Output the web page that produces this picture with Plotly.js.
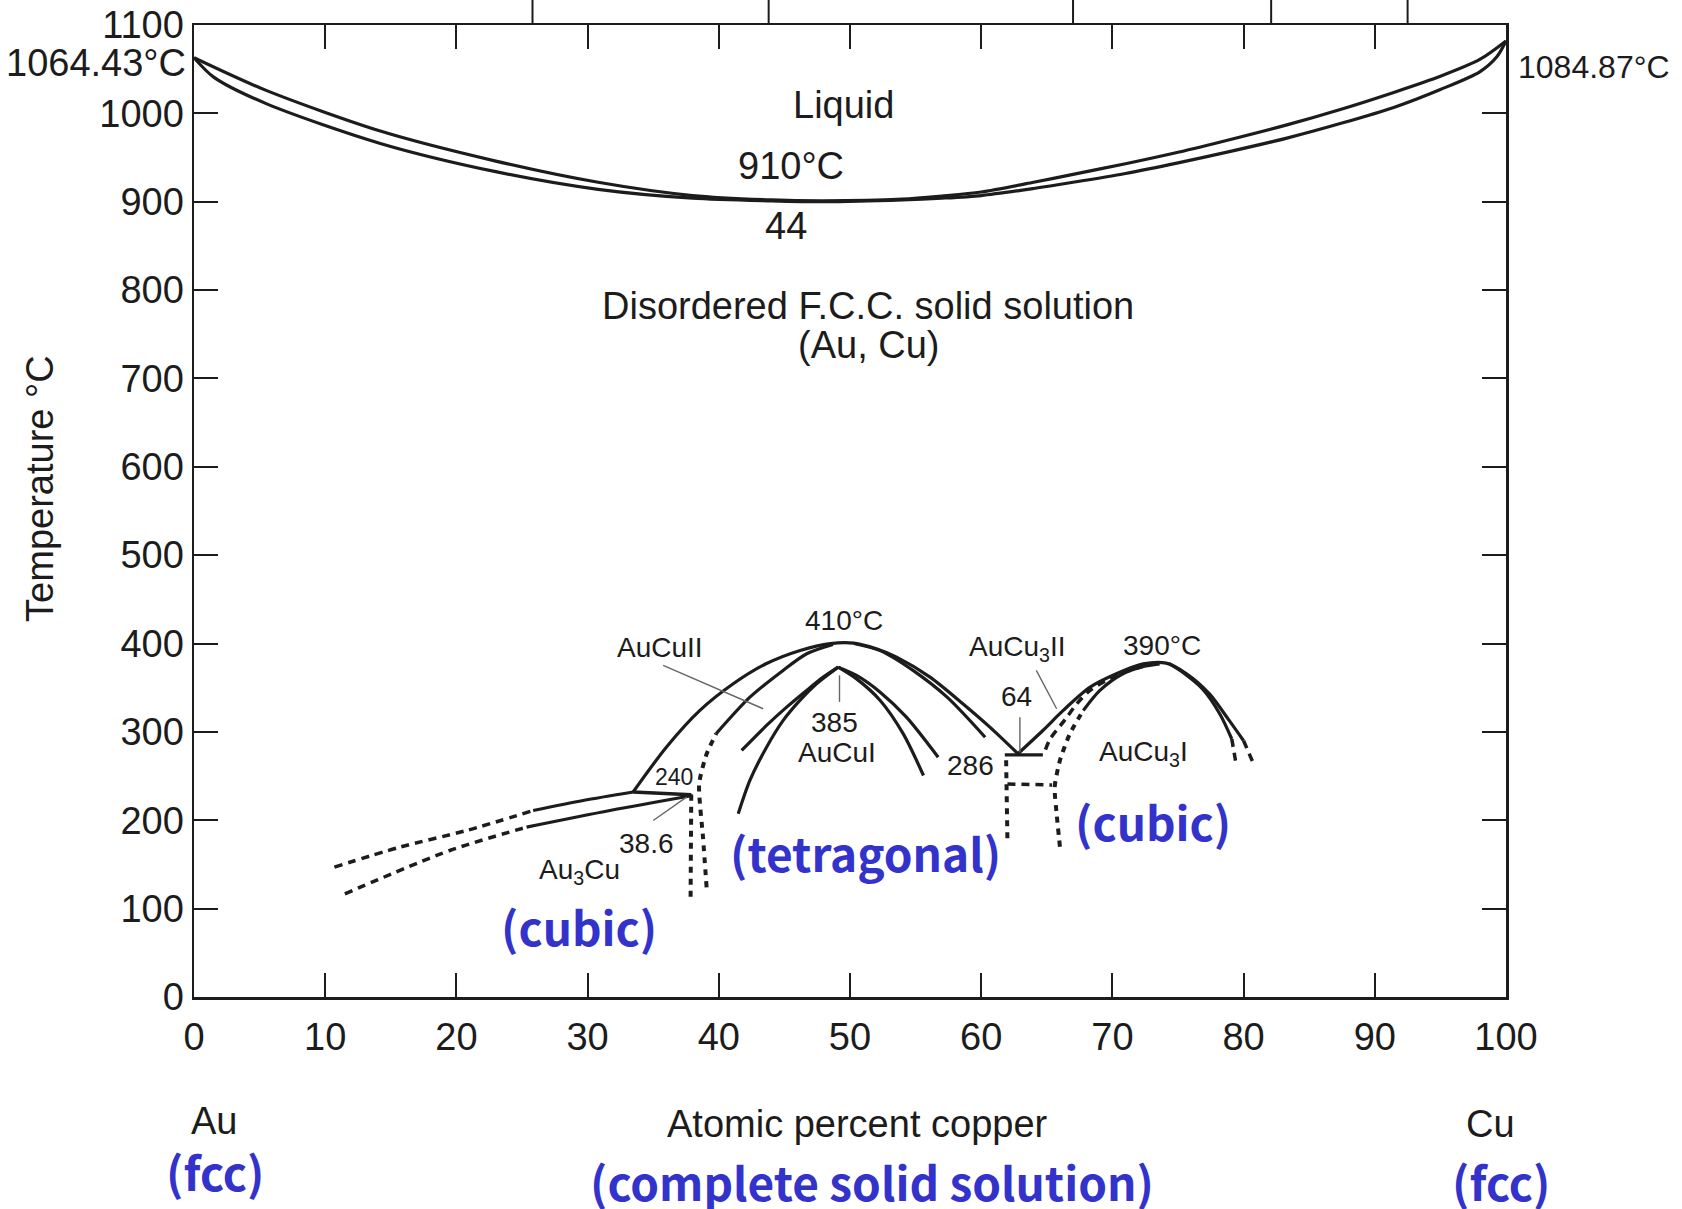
<!DOCTYPE html>
<html>
<head>
<meta charset="utf-8">
<script src="https://cdn.plot.ly/plotly-3.0.1.min.js"></script>
<style>html,body{margin:0;padding:0;background:#fff;}#chart{width:1682px;height:1209px;}</style>
</head>
<body>
<div id="chart"></div>
<script>
// ---------- data (atomic % Cu, temperature °C) ----------
const liquidusX = [0, 5.5, 14.2, 23, 30.8, 38, 44, 48, 54, 57, 60, 64, 67, 71, 75, 79, 83.3, 87.5, 91.5, 95, 98, 100];
const liquidusY = [1063, 1026, 980, 946, 922, 907, 902, 901, 903, 906.5, 911, 922, 931, 943, 956, 970.5, 987, 1005, 1024, 1042, 1061, 1082];
const solidusX = [0, 1.5, 5.5, 14.2, 23, 30.8, 38, 44, 48, 54, 57, 60, 64, 67, 71, 75, 79, 83.3, 87.5, 91.5, 95, 98, 99.3, 100];
const solidusY = [1063, 1041, 1011, 966, 934, 914, 904, 901, 900, 902, 904, 907, 915, 922, 932, 944, 957, 972, 989, 1007, 1027, 1047, 1064, 1082];

const au3cuUpperX = [25.85, 29.66, 33.47];
const au3cuUpperY = [211, 222.4, 232];
const au3cuUpperDashX = [10.7, 15.7, 20.8, 25.85];
const au3cuUpperDashY = [147, 169.6, 188.5, 211];
const au3cuLowerX = [25.35, 31.7, 38.0];
const au3cuLowerY = [192.2, 211, 228];
const au3cuLowerDashX = [11.5, 19.5, 25.35];
const au3cuLowerDashY = [116.8, 165.8, 192.2];

const iso240X = [33.47, 37.9];
const iso240Y = [232, 229];
const au3cuLimitX = [37.9, 37.85];
const au3cuLimitY = [229, 112];

const aucuIIOuterX = [33.47, 36.0, 38.56, 41.1, 43.6, 46.2, 48.5, 50.3, 52.0, 53.55, 56.1, 58.6, 60.66, 62.8];
const aucuIIOuterY = [232, 282.7, 324.4, 354.5, 377.1, 392.2, 400, 400.5, 394, 384.6, 362, 331.9, 305.4, 275.3];
const aucuIIInnerDashX = [39.07, 38.8, 38.5, 39.07, 39.8];
const aucuIIInnerDashY = [124, 180, 241, 275, 298];
const aucuIIInnerX = [39.8, 42.37, 44.9, 46.7, 48.7];
const aucuIIInnerY = [298, 339.3, 369.6, 388.5, 399];
const aucuIIInnerRightX = [50.3, 52.3, 54.8, 57.4, 60.3];
const aucuIIInnerRightY = [400, 392, 369.6, 339.3, 294];

const aucuILeftOuterX = [41.74, 43.64, 45.17, 46.69, 47.96, 49.1];
const aucuILeftOuterY = [279, 307.3, 328, 346.9, 362, 373.3];
const aucuILeftInnerX = [41.48, 42.37, 43.64, 44.91, 46.18, 47.45, 49.1];
const aucuILeftInnerY = [207.4, 245.1, 282.7, 313, 335.6, 354.5, 373.3];
const aucuIRightOuterX = [49.1, 50.5, 52.3, 54.3, 56.72];
const aucuIRightOuterY = [373.3, 363.9, 345, 316.7, 271.4];
const aucuIRightInnerX = [49.1, 50.5, 52.3, 54.05, 55.6];
const aucuIRightInnerY = [373.3, 360, 335.6, 298, 250.7];

const iso286X = [61.8, 64.7];
const iso286Y = [274, 274];
const aucu3IILimitX = [61.9, 62.0];
const aucu3IILimitY = [268, 177];
const aucu3IIBaseX = [62.0, 65.4];
const aucu3IIBaseY = [241, 240];
const aucu3IBoundDashX = [66.0, 65.75, 65.6, 66.0, 66.76, 67.78];
const aucu3IBoundDashY = [170, 207.3, 237.5, 267.7, 298, 324.3];
const aucu3IBoundX = [67.78, 69.05, 70.8, 72.35, 73.6];
const aucu3IBoundY = [324.3, 347, 365.8, 374, 377];
const aucu3IIInnerX = [64.9, 65.25, 66.4, 67.3, 68.3, 70.3, 72.3];
const aucu3IIInnerY = [280, 292, 314, 332, 347, 364, 374];

const aucu3OuterX = [62.8, 64.7, 66.25, 68.3, 70.3, 72.35, 74.1, 75.65, 77.4, 78.9, 80.0];
const aucu3OuterY = [275.3, 301.6, 324.3, 350.6, 365.8, 377, 377.8, 365.8, 343, 313, 290];
const aucu3OuterDashX = [80.0, 80.7];
const aucu3OuterDashY = [290, 266];
const aucu3InnerRightX = [74.3, 75.3, 76.9, 78.2, 79.1];
const aucu3InnerRightY = [377.5, 368, 348, 320, 292];
const aucu3InnerRightDashX = [79.1, 79.4];
const aucu3InnerRightDashY = [292, 266];

const leaderAuCuIIX = [35.76, 43.38];
const leaderAuCuIIY = [375.2, 326.2];
const leader386X = [35.0, 37.54];
const leader386Y = [199.8, 226.2];
const leader385X = [49.2, 49.2];
const leader385Y = [364, 334];
const leader64X = [62.95, 62.95];
const leader64Y = [316.7, 277];
const leaderAuCu3IIX = [64.2, 65.75];
const leaderAuCu3IIY = [369.6, 326.2];

const xTicks = [0, 10, 20, 30, 40, 50, 60, 70, 80, 90, 100];
const yTicks = [0, 100, 200, 300, 400, 500, 600, 700, 800, 900, 1000, 1100];
const scanMarksX = [25.8, 43.8, 67.0, 82.1, 92.5];

// ---------- drawing ----------
const INK = '#1c1c1c';
const FONT = 'Liberation Sans, Arial, Helvetica, sans-serif';
const BLUE = '#3333cc';
const KFONT = 'Noto Sans CJK KR, Noto Sans, sans-serif';

function solid(x, y, w) {
  return {x: x, y: y, type: 'scatter', mode: 'lines', hoverinfo: 'skip',
    line: {color: INK, width: w || 3.2, shape: 'spline', smoothing: 0.8}};
}
function dashed(x, y) {
  return {x: x, y: y, type: 'scatter', mode: 'lines', hoverinfo: 'skip',
    line: {color: INK, width: 3.5, shape: 'spline', smoothing: 0.8, dash: '8px,6px'}};
}
function dotted(x, y) {
  return {x: x, y: y, type: 'scatter', mode: 'lines', hoverinfo: 'skip',
    line: {color: INK, width: 4, shape: 'spline', smoothing: 0.6, dash: '6px,6px'}};
}
function thin(x, y) {
  return {x: x, y: y, type: 'scatter', mode: 'lines', hoverinfo: 'skip',
    line: {color: '#666', width: 1.4}};
}

const traces = [
  solid(liquidusX, liquidusY), solid(solidusX, solidusY),
  solid(au3cuUpperX, au3cuUpperY), dashed(au3cuUpperDashX, au3cuUpperDashY),
  solid(au3cuLowerX, au3cuLowerY), dashed(au3cuLowerDashX, au3cuLowerDashY),
  solid(iso240X, iso240Y, 3.5), dotted(au3cuLimitX, au3cuLimitY),
  solid(aucuIIOuterX, aucuIIOuterY), dotted(aucuIIInnerDashX, aucuIIInnerDashY),
  solid(aucuIIInnerX, aucuIIInnerY), solid(aucuIIInnerRightX, aucuIIInnerRightY),
  solid(aucuILeftOuterX, aucuILeftOuterY), solid(aucuILeftInnerX, aucuILeftInnerY),
  solid(aucuIRightOuterX, aucuIRightOuterY), solid(aucuIRightInnerX, aucuIRightInnerY),
  solid(iso286X, iso286Y), dotted(aucu3IILimitX, aucu3IILimitY),
  dashed(aucu3IIBaseX, aucu3IIBaseY), dotted(aucu3IBoundDashX, aucu3IBoundDashY),
  solid(aucu3IBoundX, aucu3IBoundY), dashed(aucu3IIInnerX, aucu3IIInnerY),
  solid(aucu3OuterX, aucu3OuterY), dashed(aucu3OuterDashX, aucu3OuterDashY),
  solid(aucu3InnerRightX, aucu3InnerRightY), dashed(aucu3InnerRightDashX, aucu3InnerRightDashY),
  thin(leaderAuCuIIX, leaderAuCuIIY), thin(leader386X, leader386Y), thin(leader385X, leader385Y),
  thin(leader64X, leader64Y), thin(leaderAuCu3IIX, leaderAuCu3IIY)
];

function lab(text, x, y, size, extra) {
  return Object.assign({text: text, x: x, y: y, xref: 'x', yref: 'y', showarrow: false,
    font: {family: FONT, size: size, color: INK}, xanchor: 'center', yanchor: 'middle'}, extra || {});
}
function blue(text, x, y, extra) {
  return Object.assign({text: '<b>' + text + '</b>', x: x, y: y, xref: 'x', yref: 'y', showarrow: false,
    font: {family: KFONT, size: 46, color: BLUE}, xanchor: 'center', yanchor: 'middle'}, extra || {});
}

const annotations = [
  lab('Liquid', 49.5, 1010, 38),
  lab('910°C', 45.5, 940, 38),
  lab('44', 45.1, 872, 38),
  lab('Disordered F.C.C. solid solution', 51.4, 782, 38),
  lab('(Au, Cu)', 51.4, 738, 38),
  lab('AuCuII', 35.5, 396, 28),
  lab('410°C', 49.55, 426, 28),
  lab('AuCu<sub>3</sub>II', 62.8, 394, 28),
  lab('390°C', 73.75, 398, 28),
  lab('64', 62.7, 340, 28),
  lab('385', 48.8, 311, 28),
  lab('AuCuI', 49.0, 277, 28),
  lab('286', 59.15, 262, 28),
  lab('AuCu<sub>3</sub>I', 72.4, 276, 28),
  lab('240', 36.6, 249, 23),
  lab('38.6', 34.5, 174, 28),
  lab('Au<sub>3</sub>Cu', 29.35, 142, 28),
  lab('1064.43°C', 0, 1057, 38, {xref: 'paper', xanchor: 'right', xshift: -6}),
  lab('1084.87°C', 1, 1053, 32, {xref: 'paper', xanchor: 'left', xshift: 10}),
  lab('Temperature °C', 0, 575, 38, {xref: 'paper', xshift: -154, textangle: -90}),
  lab('Au', 1.55, 0, 38, {yref: 'paper', yshift: -124}),
  lab('Atomic percent copper', 50.6, 0, 38, {yref: 'paper', yshift: -127}),
  lab('Cu', 98.85, 0, 38, {yref: 'paper', yshift: -127}),
  blue('(cubic)', 29.35, 80),
  blue('(tetragonal)', 51.2, 164),
  blue('(cubic)', 73.1, 199),
  blue('(fcc)', 1.63, 0, {yref: 'paper', yshift: -174}),
  blue('(complete solid solution)', 51.7, 0, {yref: 'paper', yshift: -184}),
  blue('(fcc)', 99.6, 0, {yref: 'paper', yshift: -184})
];

const shapes = scanMarksX.map(v => ({type: 'line', xref: 'x', yref: 'paper', x0: v, x1: v, y0: 1, y1: 1.026,
  line: {color: INK, width: 2}}));

const axisCommon = {
  showline: true, linecolor: INK, linewidth: 2.5, mirror: 'ticks',
  ticks: 'inside', ticklen: 24, tickwidth: 2, tickcolor: INK,
  showgrid: false, zeroline: false, fixedrange: true,
  tickfont: {family: FONT, size: 38, color: INK}
};

const layout = {
  width: 1682, height: 1209,
  margin: {l: 194, r: 176, t: 25, b: 212, pad: 0},
  paper_bgcolor: '#ffffff', plot_bgcolor: '#ffffff',
  showlegend: false,
  xaxis: Object.assign({}, axisCommon, {range: [0, 100], tickmode: 'array', tickvals: xTicks,
    ticktext: xTicks.map(String), ticklabelstandoff: 5}),
  yaxis: Object.assign({}, axisCommon, {range: [0, 1100], tickmode: 'array', tickvals: yTicks,
    ticktext: yTicks.map(String), ticklabelstandoff: 0}),
  annotations: annotations,
  shapes: shapes
};

Plotly.newPlot('chart', traces, layout, {displayModeBar: false, staticPlot: true});
</script>
</body>
</html>
